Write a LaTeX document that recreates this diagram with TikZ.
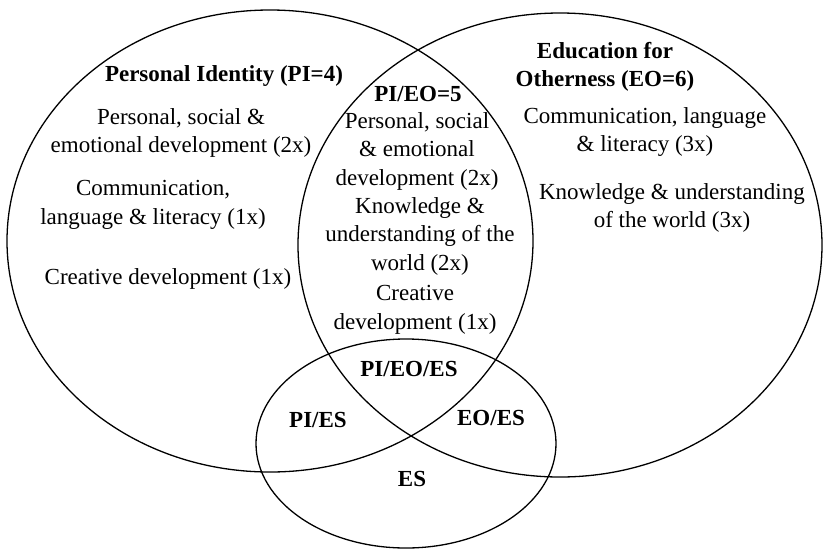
\documentclass[tikz,border=0pt]{standalone}
\usepackage{fontspec}
\setmainfont{Liberation Serif}
\begin{document}
\begin{tikzpicture}[x=1pt,y=-1pt,
  ring/.style={draw=black,line width=1.3pt},
  txt/.style={align=center,inner sep=0pt,font=\fontsize{23}{28.5}\selectfont},
  btxt/.style={txt,font=\fontsize{23}{28.5}\selectfont\bfseries}]
\useasboundingbox (0,0) rectangle (823,550);
% sets
\draw[ring] (270,241) ellipse [x radius=263, y radius=231];
\draw[ring] (560,245) ellipse [x radius=262, y radius=232];
\draw[ring] (406,443.5) ellipse [x radius=150, y radius=104.5];
% PI only
\node[btxt] (pititle) at (224,76) {Personal Identity (PI=4)};
\node[txt] (pi1) at (181,133) {Personal, social \&\\emotional development (2x)};
\node[txt] (pi2) at (153,205) {Communication,\\language \& literacy (1x)};
\node[txt] (pi3) at (168,279) {Creative development (1x)};
% PI/EO
\node[btxt] (pieotitle) at (418,94) {PI/EO=5};
\node[txt] (pieo1) at (417,151) {Personal, social\\\& emotional\\development (2x)};
\node[txt] (pieo2) at (420,236) {Knowledge \&\\understanding of the\\world (2x)};
\node[txt] (pieo3) at (415,310) {Creative\\development (1x)};
% EO only
\node[btxt] (eotitle) at (605,67) {Education for\\Otherness (EO=6)};
\node[txt] (eo1) at (645,132) {Communication, language\\\& literacy (3x)};
\node[txt] (eo2) at (672,208) {Knowledge \& understanding\\of the world (3x)};
% ES intersections
\node[btxt] (pieoes) at (409,369) {PI/EO/ES};
\node[btxt] (pies) at (318,420) {PI/ES};
\node[btxt] (eoes) at (491,418) {EO/ES};
\node[btxt] (es) at (412,479) {ES};
\end{tikzpicture}
\end{document}
